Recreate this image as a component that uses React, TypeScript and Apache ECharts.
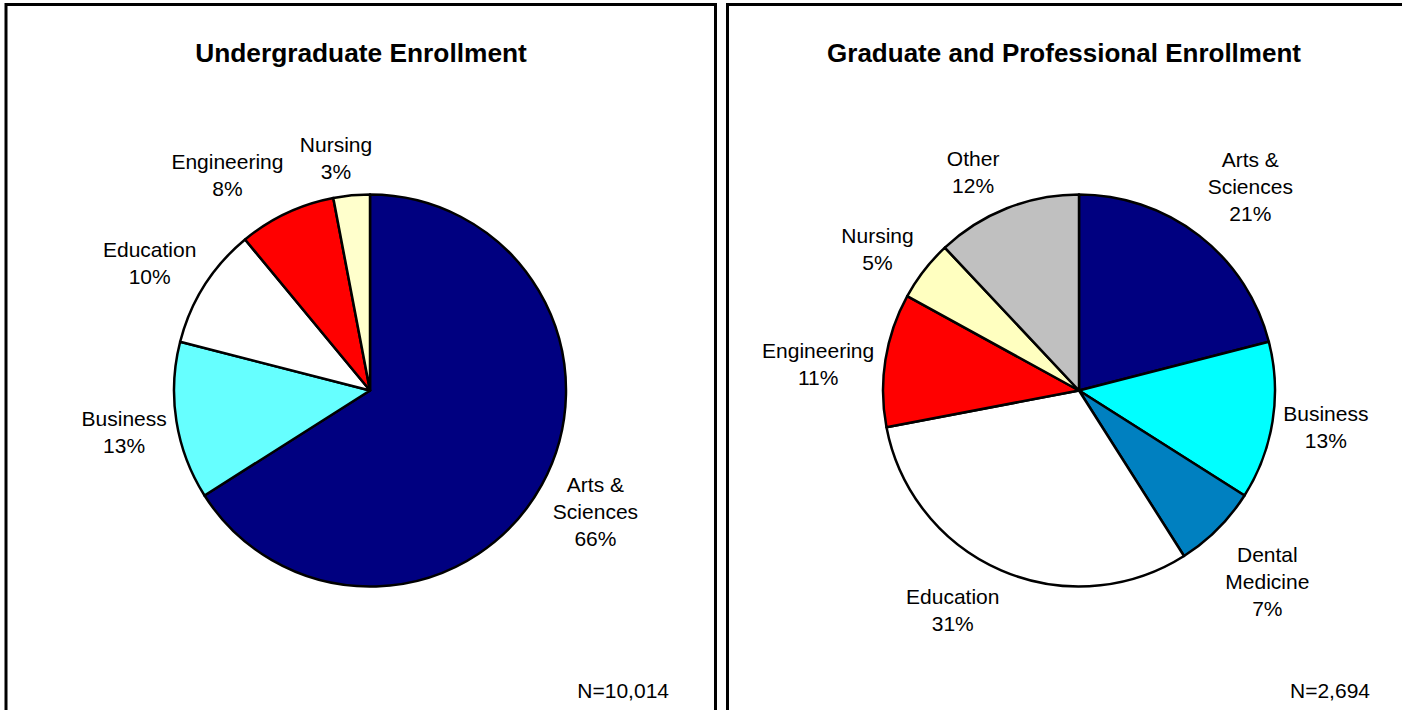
import React, { useEffect, useRef } from "react";
import * as echarts from "echarts";

// ---- Data ----
const ugCategories = ["Arts & Sciences", "Business", "Education", "Engineering", "Nursing"];
const ugValues = [66, 13, 10, 8, 3];
const ugTotal = "N=10,014";
const ugTitle = "Undergraduate Enrollment";

const grCategories = ["Arts & Sciences", "Business", "Dental Medicine", "Education", "Engineering", "Nursing", "Other"];
const grValues = [21, 13, 7, 31, 11, 5, 12];
const grTotal = "N=2,694";
const grTitle = "Graduate and Professional Enrollment";

// ---- Styles / layout ----
const ugColors = ["#000080", "#66FFFF", "#FFFFFF", "#FF0000", "#FFFFCC"];
const grColors = ["#000080", "#00FFFF", "#0080C0", "#FFFFFF", "#FF0000", "#FFFFC0", "#C0C0C0"];
const ugLabelNudge = [[2, -2], [6, 2], [-5, 9], [-34, 15], [-10, 21]];
const grLabelNudge = [[15, -3], [-5, -3], [8, 11], [-25, -15], [-9, 13], [0, 15], [-12, 19]];

const FONT = '"Liberation Sans", Arial, Helvetica, sans-serif';
const LABEL_R = 255;

function wrapName(name: string): string {
  return name.replace(/ (?=Sciences|Medicine)/, "\n");
}

function makeLabelLayout(values: number[], cx: number, cy: number, nudge: number[][]) {
  const total = values.reduce((a, b) => a + b, 0);
  return (p: any) => {
    const idx = p.dataIndex;
    let cum = 0;
    for (let i = 0; i < idx; i++) cum += values[i];
    const mid = ((cum + values[idx] / 2) / total) * Math.PI * 2;
    const n = nudge[idx] || [0, 0];
    return {
      x: cx + LABEL_R * Math.sin(mid) + n[0],
      y: cy - LABEL_R * Math.cos(mid) + n[1],
      align: "center",
      verticalAlign: "middle",
    };
  };
}

function pieSeries(cats: string[], vals: number[], colors: string[], cx: number, cy: number, nudge: number[][]) {
  return {
    type: "pie",
    center: [cx, cy],
    radius: 196,
    startAngle: 90,
    clockwise: true,
    avoidLabelOverlap: false,
    silent: true,
    emphasis: { disabled: true },
    data: cats.map((c, i) => ({ name: c, value: vals[i], itemStyle: { color: colors[i] } })),
    itemStyle: { borderColor: "#000", borderWidth: 2.5 },
    label: {
      show: true,
      position: "outside",
      formatter: (p: any) => `${wrapName(p.name)}\n${p.value}%`,
      color: "#000",
      fontSize: 21,
      lineHeight: 27,
      fontFamily: FONT,
      align: "center",
    },
    labelLine: { show: false },
    labelLayout: makeLabelLayout(vals, cx, cy, nudge),
  };
}

export default function App() {
  const ref = useRef<HTMLDivElement>(null);

  useEffect(() => {
    if (!ref.current) return;
    const chart = echarts.init(ref.current, undefined, { renderer: "svg" });
    chart.setOption({
      animation: false,
      backgroundColor: "#FFFFFF",
      graphic: [
        {
          type: "rect",
          shape: { x: 6, y: 4.5, width: 709.5, height: 800 },
          style: { fill: "transparent", stroke: "#000", lineWidth: 3 },
          silent: true,
        },
        {
          type: "rect",
          shape: { x: 727.5, y: 4.5, width: 873, height: 800 },
          style: { fill: "transparent", stroke: "#000", lineWidth: 3 },
          silent: true,
        },
        {
          type: "text",
          x: 361,
          y: 53,
          style: {
            text: ugTitle,
            fill: "#000",
            fontSize: 26.3,
            fontWeight: "bold",
            fontFamily: FONT,
            align: "center",
            verticalAlign: "middle",
          },
        },
        {
          type: "text",
          x: 1064,
          y: 53,
          style: {
            text: grTitle,
            fill: "#000",
            fontSize: 26,
            fontWeight: "bold",
            fontFamily: FONT,
            align: "center",
            verticalAlign: "middle",
          },
        },
        {
          type: "text",
          x: 669,
          y: 690,
          style: {
            text: ugTotal,
            fill: "#000",
            fontSize: 21,
            fontFamily: FONT,
            align: "right",
            verticalAlign: "middle",
          },
        },
        {
          type: "text",
          x: 1370,
          y: 690,
          style: {
            text: grTotal,
            fill: "#000",
            fontSize: 21,
            fontFamily: FONT,
            align: "right",
            verticalAlign: "middle",
          },
        },
      ],
      series: [
        pieSeries(ugCategories, ugValues, ugColors, 370, 390.5, ugLabelNudge),
        pieSeries(grCategories, grValues, grColors, 1079, 390.5, grLabelNudge),
      ],
    });
    return () => chart.dispose();
  }, []);

  return (
    <div
      ref={ref}
      style={{ position: "absolute", left: 0, top: 0, width: 1402, height: 710, background: "#fff" }}
    />
  );
}
